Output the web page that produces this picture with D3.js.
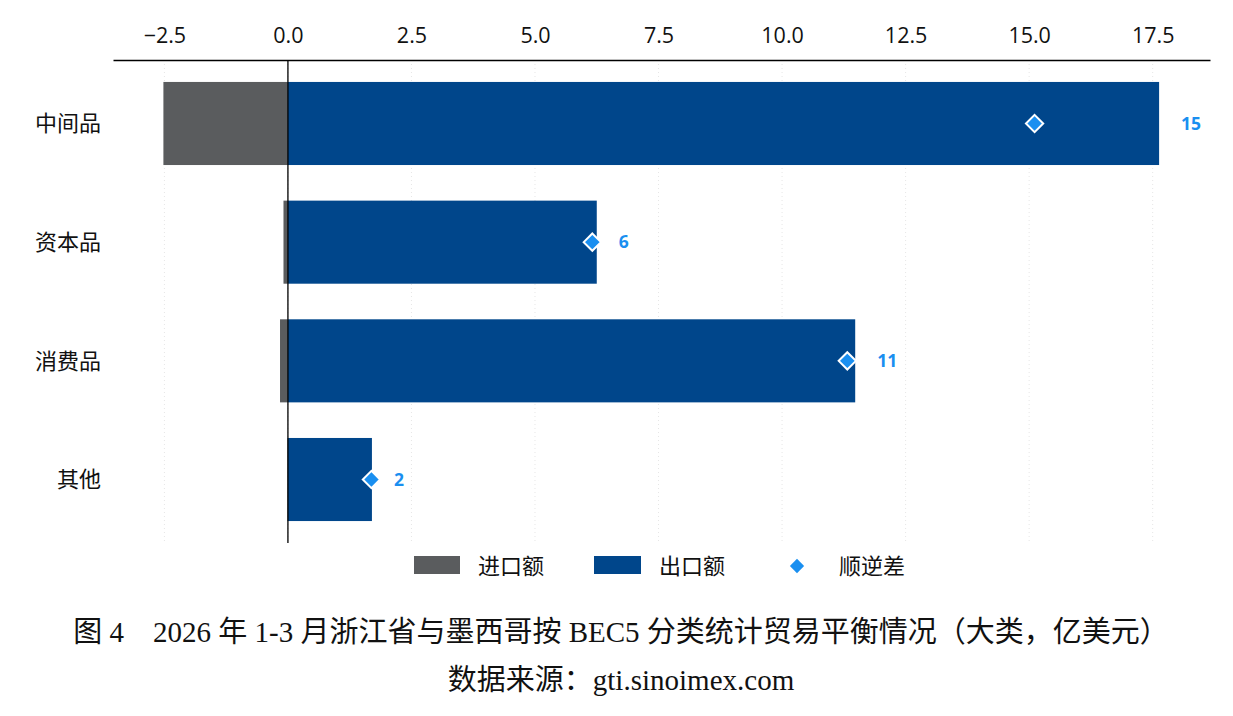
<!DOCTYPE html>
<html><head><meta charset="utf-8">
<script src="https://cdn.jsdelivr.net/npm/d3@7"></script>
<style>
body{margin:0;background:#fff;}
svg{display:block;}
</style></head>
<body><svg id="c" width="1233" height="716"></svg>
<script>
const categories = ["中间品","资本品","消费品","其他"];
const imports = [-2.52, -0.09, -0.16, -0.01];
const exports = [17.63, 6.25, 11.48, 1.70];
const balance = [15.11, 6.16, 11.32, 1.69];
const ticks = [-2.5, 0, 2.5, 5, 7.5, 10, 12.5, 15, 17.5];
const legendLabels = ["进口额","出口额","顺逆差"];
const caption = "图 4　2026 年 1-3 月浙江省与墨西哥按 BEC5 分类统计贸易平衡情况（大类，亿美元）";
const source = "数据来源：gti.sinoimex.com";

const C_IMP = "#5a5c5e", C_EXP = "#00468b", C_BAL = "#1a8ff0";
const sansFont = "'Open Sans','Noto Sans CJK SC',sans-serif";
const svg = d3.select("#c");
const x = d3.scaleLinear().domain([-3.54, 18.66]).range([113, 1210]);
const y = d3.scaleBand().domain(categories).range([60, 543]).paddingInner(0.3).paddingOuter(0.185);

// grid
svg.append("g").selectAll("line").data(ticks).join("line")
  .attr("x1", d => x(d)).attr("x2", d => x(d)).attr("y1", 60).attr("y2", 543)
  .attr("stroke", "#e6e6e6").attr("stroke-width", 1).attr("stroke-dasharray", "1,3");

// bars
const rows = categories.map((c, i) => ({c, imp: imports[i], exp: exports[i], bal: balance[i]}));
svg.append("g").selectAll("rect").data(rows).join("rect")
  .attr("x", d => x(d.imp)).attr("width", d => x(0) - x(d.imp))
  .attr("y", d => y(d.c)).attr("height", y.bandwidth()).attr("fill", C_IMP);
svg.append("g").selectAll("rect").data(rows).join("rect")
  .attr("x", x(0)).attr("width", d => x(d.exp) - x(0))
  .attr("y", d => y(d.c)).attr("height", y.bandwidth()).attr("fill", C_EXP);

// zero line
svg.append("line").attr("x1", x(0)).attr("x2", x(0)).attr("y1", 60).attr("y2", 543)
  .attr("stroke", "#000").attr("stroke-width", 1.3);

// axis
const ax = svg.append("g").attr("transform", "translate(0,60)")
  .call(d3.axisTop(x).tickValues(ticks).tickFormat(d3.format(".1f")).tickSize(0).tickPadding(17));
ax.select(".domain").attr("stroke", "#000").attr("stroke-width", 1.5);
ax.selectAll("text").attr("font-family", sansFont).attr("font-size", 21.5).attr("fill", "#111");

// diamonds
const sym = d3.symbol().type(d3.symbolDiamond2).size(190);
svg.append("g").selectAll("path").data(rows).join("path")
  .attr("d", sym)
  .attr("transform", d => `translate(${x(d.bal)},${y(d.c) + y.bandwidth()/2})`)
  .attr("fill", C_BAL).attr("stroke", "#fff").attr("stroke-width", 2);

// value labels
svg.append("g").selectAll("text").data(rows).join("text")
  .attr("x", d => x(Math.max(d.exp, d.bal)) + 22)
  .attr("y", d => y(d.c) + y.bandwidth()/2)
  .attr("dy", "0.35em").attr("font-family", sansFont).attr("font-weight", "bold")
  .attr("font-size", 17.5).attr("fill", C_BAL)
  .text(d => d3.format(".0f")(d.bal));

// category labels
svg.append("g").selectAll("text").data(categories).join("text")
  .attr("x", 101).attr("y", d => y(d) + y.bandwidth()/2).attr("dy", "0.35em")
  .attr("text-anchor", "end").attr("font-family", sansFont).attr("font-size", 22).attr("fill", "#111")
  .text(d => d);

// legend
const lg = svg.append("g").attr("font-family", sansFont).attr("font-size", 22).attr("fill", "#111");
lg.append("rect").attr("x", 414).attr("y", 556).attr("width", 46).attr("height", 18).attr("fill", C_IMP);
lg.append("text").attr("x", 478).attr("y", 566).attr("dy", "0.35em").text(legendLabels[0]);
lg.append("rect").attr("x", 594).attr("y", 556).attr("width", 47).attr("height", 18).attr("fill", C_EXP);
lg.append("text").attr("x", 659).attr("y", 566).attr("dy", "0.35em").text(legendLabels[1]);
lg.append("path").attr("d", d3.symbol().type(d3.symbolDiamond2).size(130)).attr("transform", "translate(797,566)").attr("fill", C_BAL);
lg.append("text").attr("x", 839).attr("y", 566).attr("dy", "0.35em").text(legendLabels[2]);

// caption
const serif = "'Liberation Serif','Noto Sans CJK SC',serif";
svg.append("text").attr("x", 621).attr("y", 642).attr("text-anchor", "middle")
  .attr("font-family", serif).attr("font-size", 29).attr("fill", "#111").text(caption);
svg.append("text").attr("x", 621).attr("y", 690).attr("text-anchor", "middle")
  .attr("font-family", serif).attr("font-size", 29).attr("fill", "#111").text(source);
</script></body></html>
